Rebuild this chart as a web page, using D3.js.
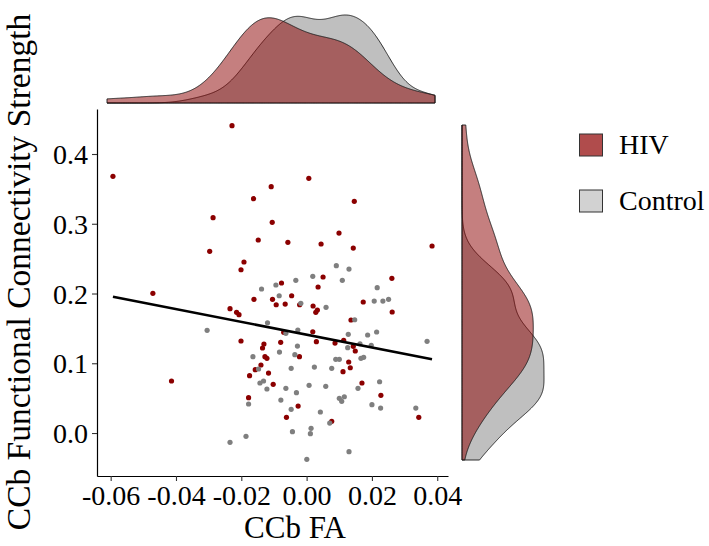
<!DOCTYPE html>
<html>
<head>
<meta charset="utf-8">
<script src="https://cdn.jsdelivr.net/npm/d3@7"></script>
<style>
  html, body { margin: 0; padding: 0; background: #fff; }
  svg { display: block; }
  text { font-family: "Liberation Serif", "Times New Roman", serif; fill: #000; }
</style>
</head>
<body>
<svg id="chart" width="709" height="546"></svg>
<script>
// ---------------- data ----------------
const groups = ["HIV", "Control"];

const hivX = [-0.02284,-0.05930,-0.01084,-0.01624,-0.02864,-0.01053,-0.01481,-0.02968,-0.01918,-0.02009,
  0.00067,0.01460,0.00992,-0.00574,0.00443,0.01429,0.03841,0.00504,0.02611,-0.00769,
  -0.04708,-0.01612,-0.01044,-0.00931,-0.02345,-0.02144,-0.02070,-0.02009,-0.01307,-0.01350,
  -0.01276,-0.01215,-0.01398,-0.01573,-0.01166,-0.01747,-0.04137,-0.01023,-0.01777,-0.00458,
  -0.00656,-0.00214,0.00351,0.01734,0.00198,0.00330,0.00281,0.02620,0.01359,-0.00702,
  0.00189,0.00299,0.00870,0.01136,-0.00794,0.01429,0.01490,-0.00220,0.01289,0.01337,
  0.01115,0.01695,0.02275,-0.00260,-0.00617,0.03435,0.00769];
const hivY = [0.4406,0.3680,0.3531,0.3359,0.3087,0.3021,0.2767,0.2605,0.2452,0.2341,
  0.3652,0.3322,0.2867,0.2734,0.2710,0.2652,0.2681,0.2237,0.2218,0.2151,
  0.2003,0.1917,0.1917,0.1839,0.1782,0.1730,0.1696,0.1319,0.1276,0.1219,
  0.1094,0.1071,0.0975,0.0908,0.0860,0.0822,0.0746,0.0698,0.0506,0.1968,
  0.1849,0.1839,0.2093,0.1878,0.1821,0.1763,0.1730,0.1735,0.1620,0.1444,
  0.1452,0.1309,0.1290,0.1329,0.1300,0.1243,0.1176,0.1094,0.1018,0.0936,
  0.0879,0.0717,0.0541,0.0387,0.0225,0.0225,0.0168];

const ctrlX = [0.00910,0.01298,-0.00330,0.00189,0.01093,-0.00940,-0.01380,-0.01197,-0.03047,-0.01643,
  -0.01472,-0.01319,-0.01429,-0.01215,-0.01777,-0.01856,-0.02345,0.02162,-0.00840,-0.00177,
  0.02070,0.02336,0.02510,0.00595,0.01472,-0.00269,-0.00635,0.01276,0.01869,0.02144,
  0.01634,0.01979,0.03689,-0.00281,0.01258,-0.00831,-0.00360,0.00892,0.01002,0.01664,
  0.01747,-0.00473,0.00238,0.00769,0.02235,0.00076,0.00586,0.01573,-0.00635,-0.00311,
  -0.00788,0.01002,0.01154,0.01075,0.02000,0.02266,0.03344,-0.00473,0.00421,0.00708,
  0.00137,0.00116,-0.00434,0.01298,0.00006];
const ctrlY = [0.2399,0.2351,0.2189,0.2247,0.2189,0.2122,0.2065,0.1581,0.1472,0.1094,
  0.0918,0.0746,0.0717,0.0631,0.0416,-0.0047,-0.0133,0.2083,0.1968,0.1860,
  0.1892,0.1892,0.1917,0.1802,0.1624,0.1477,0.1429,0.1415,0.1405,0.1448,
  0.1280,0.1257,0.1315,0.1247,0.1223,0.1161,0.1123,0.1057,0.1057,0.1071,
  0.1085,0.0928,0.0946,0.0928,0.0735,0.0684,0.0670,0.0641,0.0641,0.0578,
  0.0473,0.0497,0.0520,0.0454,0.0406,0.0358,0.0358,0.0340,0.0301,0.0143,
  0.0067,-0.0010,0.0019,-0.0268,-0.0377];

// fitted regression line
const fitX = [-0.0593, 0.0384];
const fitY = [0.1954, 0.1057];

const xTicks = [-0.06, -0.04, -0.02, 0.00, 0.02, 0.04];
const yTicks = [0.0, 0.1, 0.2, 0.3, 0.4];
const xTitle = "CCb FA";
const yTitle = "CCb Functional Connectivity Strength";

// ---------------- styles ----------------
const pointColor = { HIV: "#8B0000", Control: "#7F7F7F" };
const legendFill = { HIV: "#B04C4C", Control: "#D2D2D2" };

// ---------------- layout ----------------
const svg = d3.select("#chart");
const P = { left: 97, right: 448, top: 109, bottom: 476 };

const allX = hivX.concat(ctrlX), allY = hivY.concat(ctrlY);
const ex = d3.extent(allX), ey = d3.extent(allY);
const padX = (ex[1] - ex[0]) * 0.05, padY = (ey[1] - ey[0]) * 0.05;
const x = d3.scaleLinear().domain([ex[0] - padX, ex[1] + padX]).range([P.left, P.right]);
const y = d3.scaleLinear().domain([ey[0] - padY, ey[1] + padY]).range([P.bottom, P.top]);

// ---------------- kernel density (R bw.nrd0, gaussian) ----------------
function bwNrd0(v) {
  const s = d3.sort(v);
  const sd = d3.deviation(s);
  const iqr = d3.quantileSorted(s, 0.75) - d3.quantileSorted(s, 0.25);
  const lo = Math.min(sd, iqr / 1.34);
  return 0.9 * lo * Math.pow(v.length, -0.2);
}
function kde(v, lo, hi, n) {
  const bw = bwNrd0(v);
  const pts = d3.range(n).map(i => lo + (hi - lo) * i / (n - 1));
  return pts.map(t => {
    let s = 0;
    for (const xi of v) { const u = (t - xi) / bw; s += Math.exp(-0.5 * u * u); }
    return [t, s / (v.length * bw * Math.sqrt(2 * Math.PI))];
  });
}

const densX = { HIV: kde(hivX, ex[0], ex[1], 512), Control: kde(ctrlX, ex[0], ex[1], 512) };
const densY = { HIV: kde(hivY, ey[0], ey[1], 512), Control: kde(ctrlY, ey[0], ey[1], 512) };

// ---------------- top marginal ----------------
const topBase = 103, topPeak = 15;
const xm = d3.scaleLinear().domain(ex).range([107, 435]);
const maxTop = d3.max(groups, g => d3.max(densX[g], d => d[1]));
const hm = d3.scaleLinear().domain([0, maxTop]).range([topBase, topPeak]);
const areaTop = d3.area().x(d => xm(d[0])).y0(topBase).y1(d => hm(d[1]));
["Control", "HIV"].forEach(g => {
  svg.append("path").attr("d", areaTop(densX[g]))
    .attr("fill", pointColor[g]).attr("fill-opacity", 0.5)
    .attr("stroke", "#1a1a1a").attr("stroke-width", 0.9);
});

// ---------------- right marginal ----------------
const rightBase = 462, rightPeak = 544;
const ym = d3.scaleLinear().domain(ey).range([460, 125]);
const maxRight = d3.max(groups, g => d3.max(densY[g], d => d[1]));
const wm = d3.scaleLinear().domain([0, maxRight]).range([rightBase, rightPeak]);
const areaRight = d3.area().y(d => ym(d[0])).x0(rightBase).x1(d => wm(d[1]));
["Control", "HIV"].forEach(g => {
  svg.append("path").attr("d", areaRight(densY[g]))
    .attr("fill", pointColor[g]).attr("fill-opacity", 0.5)
    .attr("stroke", "#1a1a1a").attr("stroke-width", 0.9);
});

// ---------------- points ----------------
const pts = [];
hivX.forEach((v, i) => pts.push({ g: "HIV", x: v, y: hivY[i] }));
ctrlX.forEach((v, i) => pts.push({ g: "Control", x: v, y: ctrlY[i] }));
svg.append("g").selectAll("circle").data(pts).join("circle")
  .attr("cx", d => x(d.x)).attr("cy", d => y(d.y)).attr("r", 2.6)
  .attr("fill", d => pointColor[d.g]);

// ---------------- regression line ----------------
svg.append("path")
  .attr("d", d3.line().x(d => x(d[0])).y(d => y(d[1]))(fitX.map((v, i) => [v, fitY[i]])))
  .attr("stroke", "#000").attr("stroke-width", 2.6).attr("fill", "none");

// ---------------- axes ----------------
const fmtX = d => d3.format(".2f")(d).replace("−", "-");
const fmtY = d => d3.format(".1f")(d);
const gx = svg.append("g").attr("transform", `translate(0,${P.bottom})`)
  .call(d3.axisBottom(x).tickValues(xTicks).tickFormat(fmtX).tickSize(5).tickSizeOuter(0).tickPadding(4));
const gy = svg.append("g").attr("transform", `translate(${P.left},0)`)
  .call(d3.axisLeft(y).tickValues(yTicks).tickFormat(fmtY).tickSize(5).tickSizeOuter(0).tickPadding(4));
[gx, gy].forEach(g => {
  g.select(".domain").attr("stroke", "#000").attr("stroke-width", 1.2);
  g.selectAll(".tick line").attr("stroke", "#333").attr("stroke-width", 1.1);
  g.selectAll(".tick text").attr("font-family", "Liberation Serif").attr("font-size", 28).attr("fill", "#000");
});
gx.selectAll(".tick text").attr("dy", "0.72em");
gy.selectAll(".tick text").attr("dy", "0.34em");

// titles
svg.append("text").attr("x", 295).attr("y", 538).attr("text-anchor", "middle")
  .attr("font-size", 31).text(xTitle);
svg.append("text").attr("transform", "translate(30,272) rotate(-90)")
  .attr("text-anchor", "middle").attr("font-size", 33.5).text(yTitle);

// ---------------- legend ----------------
const leg = svg.append("g");
groups.forEach((g, i) => {
  const yy = 134 + i * 56;
  leg.append("rect").attr("x", 579.5).attr("y", yy).attr("width", 23).attr("height", 22)
    .attr("fill", legendFill[g]).attr("stroke", "#333").attr("stroke-width", 1);
  leg.append("text").attr("x", 619).attr("y", yy + 20).attr("font-size", 28).text(g);
});
</script>
</body>
</html>
